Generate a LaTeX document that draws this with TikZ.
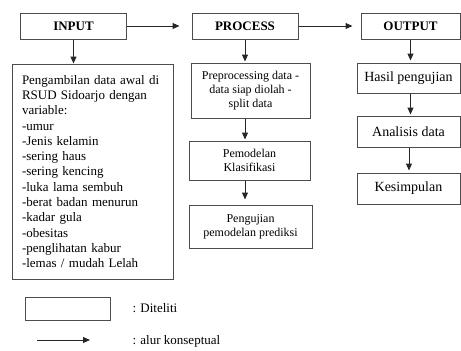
\documentclass[tikz,border=0pt]{standalone}
\usepackage{fontspec}
\setmainfont{Liberation Serif}
\usetikzlibrary{arrows.meta}

\begin{document}
\begin{tikzpicture}[x=1pt,y=-1pt]

\tikzset{box/.style = {shape=rectangle,draw=black!70,line width=1pt,inner sep=2pt,font=\fontsize{13}{15.3}\selectfont}}
\tikzset{head/.style = {box,font=\fontsize{13}{15}\selectfont\bfseries,minimum width=106pt,minimum height=26pt}}
\tikzset{small/.style = {box,align=center,font=\fontsize{12}{14}\selectfont}}
\tikzset{result/.style = {box,minimum width=103pt,font=\fontsize{14}{16}\selectfont}}
\tikzset{edge/.style = {-{Triangle[length=7pt,width=6pt]},draw=black!85,line width=1pt}}

\useasboundingbox (0,0) rectangle (461,351);

%headers
\node[head] (in) at (73.5,26) {INPUT};
\node[head] (proc) at (245,26) {PROCESS};
\node[head, minimum width=99pt] (out) at (410.5,26) {OUTPUT};

%input data
\node[box, minimum width=161pt, minimum height=215pt, text width=141pt, align=left] (data) at (92.5,171.5) {Pengambilan data awal di\\ \makebox[141pt][s]{RSUD Sidoarjo dengan}\\ variable:\\ -umur\\ -Jenis kelamin\\ -sering haus\\ -sering kencing\\ -luka lama sembuh\\ -berat badan menurun\\ -kadar gula\\ -obesitas\\ -penglihatan kabur\\ -lemas / mudah Lelah};

%process
\node[small, minimum width=119pt, minimum height=55pt] (prep) at (250.5,90.5) {Preprocessing data -\\ data siap diolah -\\ split data};
\node[small, minimum width=121pt, minimum height=39pt] (model) at (249.5,160.5) {Pemodelan\\ Klasifikasi};
\node[small, minimum width=123pt, minimum height=43pt] (uji) at (250.5,226.5) {Pengujian\\ pemodelan prediksi};

%output
\node[result, minimum height=30pt] (hasil) at (408.5,78) {Hasil pengujian};
\node[result, minimum height=31pt] (analisis) at (408.5,131.5) {Analisis data};
\node[result, minimum height=31pt] (simpul) at (408.5,188.5) {Kesimpulan};

%legend
\node[box, minimum width=85pt, minimum height=23pt] (key) at (67.5,308.5) {};
\node[anchor=west, font=\fontsize{13}{15}\selectfont] (keytext) at (129,308) {: Diteliti};
\coordinate (a1) at (37,340);
\coordinate (a2) at (90,340);
\node[anchor=west, font=\fontsize{13}{15}\selectfont] (arrtext) at (129,341) {: alur konseptual};

%edges
\draw[edge, shorten >=12pt] (in) -- (proc);
\draw[edge, shorten >=8pt] (proc) -- (out);
\draw[edge] (in.south) -- (in.south |- data.north);
\draw[edge, shorten >=1pt] (proc.south) -- (proc.south |- prep.north);
\draw[edge, shorten >=1pt] (prep.south -| proc.south) -- (proc.south |- model.north);
\draw[edge, shorten >=5pt] (model.south -| proc.south) -- (proc.south |- uji.north);
\draw[edge, shorten >=2pt] (out.south) -- (out.south |- hasil.north);
\draw[edge, shorten >=1pt] (hasil.south -| out.south) -- (out.south |- analisis.north);
\draw[edge, shorten >=2pt] ([xshift=-1.5pt]analisis.south -| out.south) -- ([xshift=-1.5pt]out.south |- simpul.north);
\draw[edge] (a1) -- (a2);

\end{tikzpicture}
\end{document}
